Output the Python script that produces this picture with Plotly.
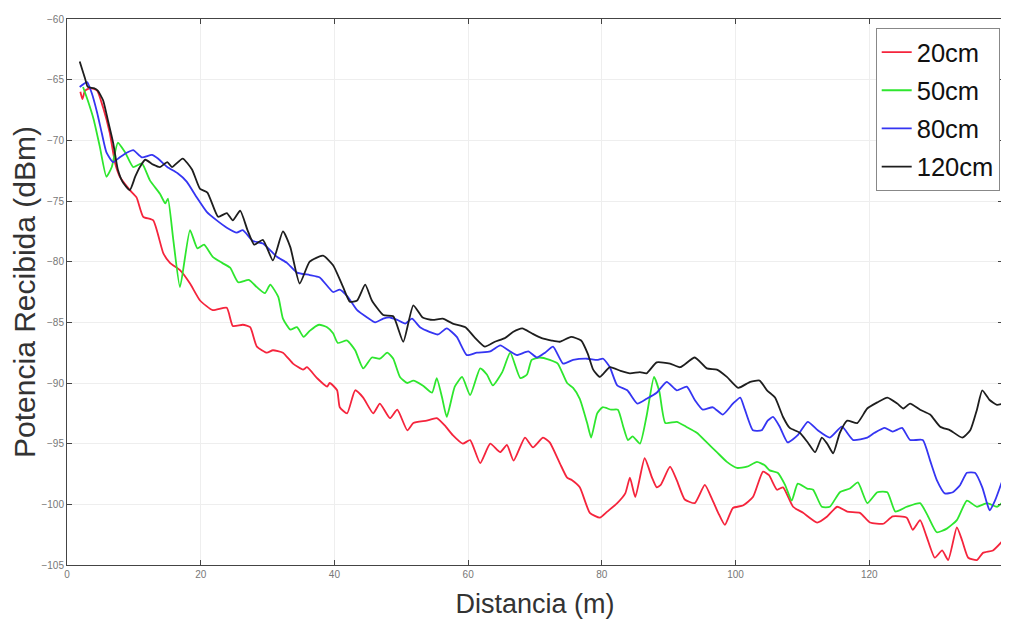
import plotly.graph_objects as go

# ---- Data ----
series_names = ["20cm", "50cm", "80cm", "120cm"]

red_x = [2.0, 2.3, 2.7, 3.5, 4.5, 5.4, 6.4, 7.2, 7.9, 9.4, 10.4, 11.4, 12.9, 14.4, 15.4, 16.9, 18.4, 19.9,
         21.8, 23.9, 24.8, 26.3, 27.4, 28.4, 29.9, 30.8, 32.3, 33.8, 35.3, 35.9, 37.4, 38.9, 39.3, 40.4,
         40.8, 41.9, 43.1, 44.3, 45.8, 46.8, 48.3, 49.4, 50.9, 51.8, 53.8, 55.3, 56.5, 57.7, 59.2, 60.3,
         61.8, 63.3, 64.8, 65.8, 66.8, 68.5, 69.7, 71.2, 72.2, 73.7, 74.8, 75.5, 76.7, 78.2, 79.7, 80.8,
         82.3, 83.5, 84.2, 85.0, 86.4, 87.5, 88.2, 88.8, 90.2, 91.2, 92.4, 93.9, 95.4, 96.5, 97.4, 98.4,
         99.6, 101.1, 102.6, 104.1, 105.0, 106.2, 107.1, 108.6, 110.1, 112.2, 113.7, 115.2, 116.7, 118.6,
         120.1, 122.1, 123.5, 125.6, 126.5, 127.6, 128.6, 129.8, 130.9, 131.8, 133.1, 133.9, 134.8, 136.1,
         137.0, 138.5, 139.8]
red_y = [-66.0, -66.6, -65.9, -65.7, -65.9, -67.3, -69.4, -71.9, -73.0, -74.1, -74.7, -76.3, -76.6, -79.3,
         -80.1, -80.7, -81.8, -83.2, -84.0, -83.8, -85.3, -85.2, -85.4, -87.0, -87.5, -87.3, -87.5, -88.4,
         -88.9, -88.7, -89.6, -90.3, -90.0, -90.6, -92.0, -92.5, -90.6, -91.2, -92.5, -91.7, -92.9, -92.2,
         -93.9, -93.3, -93.1, -92.9, -93.5, -94.3, -95.0, -94.7, -96.6, -95.0, -95.7, -95.1, -96.4, -94.5,
         -95.3, -94.5, -94.9, -96.6, -97.8, -98.0, -98.6, -100.7, -101.1, -100.6, -99.9, -99.1, -97.8,
         -99.4, -96.2, -97.8, -98.6, -98.4, -96.9, -98.0, -99.6, -99.9, -98.4, -99.6, -100.7, -101.7,
         -100.3, -100.1, -99.4, -97.3, -97.6, -98.8, -98.6, -100.2, -100.7, -101.5, -101.0, -100.2,
         -100.6, -100.7, -101.5, -101.6, -101.0, -101.1, -102.1, -101.3, -102.7, -104.4, -103.8, -104.6,
         -101.9, -103.0, -104.4, -104.6, -104.0, -103.8, -103.1]

green_x = [2.4, 3.1, 4.0, 4.9, 5.9, 6.7, 7.6, 8.7, 9.9, 11.2, 12.4, 13.9, 14.7, 15.1, 15.9, 16.9, 18.4,
           19.5, 20.5, 21.8, 23.2, 24.4, 25.6, 27.2, 28.4, 29.6, 30.4, 31.6, 32.3, 33.4, 34.4, 35.4, 36.3,
           37.7, 38.9, 39.8, 40.5, 41.9, 43.1, 44.3, 45.6, 46.8, 47.9, 48.8, 49.8, 50.9, 51.8, 53.2, 54.6,
           55.3, 56.1, 56.8, 58.0, 59.1, 60.3, 61.8, 62.8, 63.7, 65.1, 66.3, 67.8, 68.8, 69.5, 70.7, 72.2,
           73.4, 74.8, 75.7, 76.7, 77.8, 78.4, 79.3, 80.1, 81.4, 82.4, 83.2, 83.9, 84.6, 85.7, 86.7, 87.8,
           88.6, 89.5, 91.2, 92.6, 94.2, 95.7, 97.2, 98.7, 100.2, 101.7, 103.2, 104.4, 105.1, 106.3, 107.4,
           108.4, 109.3, 110.7, 111.6, 112.9, 114.1, 115.6, 117.1, 118.3, 119.7, 121.2, 122.7, 123.9, 125.6,
           127.6, 128.8, 130.1, 131.6, 133.1, 134.6, 136.1, 137.6, 139.1, 139.8]
green_y = [-65.6, -66.7, -68.3, -70.5, -73.0, -72.2, -70.2, -71.0, -72.2, -71.9, -73.3, -74.4, -75.2, -74.8,
           -78.2, -82.1, -77.4, -78.9, -78.6, -79.6, -80.1, -80.5, -81.7, -81.5, -82.1, -82.6, -81.9, -82.9,
           -84.7, -85.6, -85.4, -86.2, -85.7, -85.2, -85.4, -85.9, -86.7, -86.5, -87.3, -88.8, -87.9, -88.0,
           -87.5, -88.0, -89.5, -90.0, -89.8, -90.2, -90.8, -89.6, -91.2, -92.8, -90.3, -89.5, -91.0, -88.8,
           -89.3, -90.2, -89.1, -87.5, -89.6, -89.3, -88.1, -87.9, -88.1, -88.4, -90.0, -90.4, -91.3, -93.3,
           -94.5, -92.5, -92.0, -92.2, -92.2, -93.6, -94.7, -94.4, -95.0, -92.7, -89.5, -90.7, -93.3, -93.2,
           -93.6, -94.1, -94.9, -95.7, -96.5, -97.0, -96.9, -96.5, -96.8, -97.2, -97.4, -98.4, -99.7, -98.3,
           -98.7, -98.8, -100.2, -100.2, -99.0, -98.7, -98.2, -99.9, -99.0, -99.0, -100.6, -100.2, -99.9,
           -101.0, -102.3, -102.0, -101.3, -99.7, -100.2, -99.9, -100.2, -99.9]

blue_x = [1.9, 3.0, 3.7, 4.5, 5.2, 5.9, 6.9, 7.9, 9.0, 9.9, 11.2, 12.7, 13.6, 15.0, 16.5, 17.9, 19.4, 20.9,
          22.4, 23.9, 25.4, 26.3, 27.8, 29.3, 31.4, 32.9, 34.4, 36.3, 37.8, 39.8, 40.8, 42.0, 43.4, 44.9,
          46.1, 47.3, 48.3, 49.4, 50.6, 51.6, 52.8, 54.3, 55.5, 56.8, 58.3, 59.8, 61.3, 63.3, 64.8, 66.3,
          67.3, 69.0, 70.3, 71.5, 72.7, 74.2, 75.7, 77.8, 79.3, 80.2, 81.2, 82.3, 83.8, 85.3, 86.7, 88.2,
          89.7, 91.2, 92.7, 93.9, 95.1, 96.6, 98.1, 99.6, 100.7, 101.4, 102.6, 103.9, 104.8, 105.6, 106.6,
          107.8, 109.3, 110.8, 112.3, 114.1, 115.9, 117.6, 119.7, 120.8, 122.3, 123.5, 124.9, 126.1, 128.0,
          129.1, 130.1, 131.3, 132.5, 133.6, 134.6, 135.8, 136.9, 137.6, 138.0, 138.8, 139.8]
blue_y = [-65.6, -65.2, -66.1, -67.7, -69.4, -71.0, -71.8, -71.4, -71.0, -70.8, -71.4, -71.2, -71.5, -72.2,
          -72.7, -73.4, -74.7, -75.9, -76.6, -77.2, -77.6, -77.4, -78.3, -78.5, -79.6, -80.1, -80.9, -81.1,
          -81.3, -82.5, -82.3, -82.9, -84.0, -84.6, -85.0, -84.7, -84.6, -84.8, -85.1, -84.7, -85.4, -85.8,
          -86.0, -85.5, -86.2, -87.7, -87.5, -87.4, -86.9, -87.4, -87.7, -87.4, -87.9, -87.5, -87.0, -88.4,
          -88.1, -88.0, -88.1, -88.0, -88.7, -90.2, -90.6, -91.7, -91.3, -90.8, -89.9, -90.6, -90.3, -91.4,
          -92.2, -92.0, -92.6, -91.7, -91.2, -92.2, -93.9, -93.9, -93.1, -92.8, -93.6, -94.9, -94.3, -93.2,
          -93.9, -94.5, -93.6, -94.7, -94.5, -94.1, -93.7, -94.0, -93.7, -94.7, -94.7, -96.4, -98.0, -99.1,
          -99.0, -98.4, -97.4, -97.4, -98.6, -99.9, -100.5, -99.7, -98.2]

black_x = [1.9, 2.7, 3.1, 4.0, 4.6, 5.4, 6.1, 6.9, 7.6, 8.4, 9.4, 10.2, 10.9, 11.7, 12.9, 13.9, 15.0, 15.7,
           17.3, 18.7, 19.9, 21.0, 22.6, 23.9, 24.8, 25.9, 27.0, 28.0, 29.3, 30.8, 32.3, 33.4, 34.8, 36.3,
           38.3, 39.8, 41.3, 42.3, 43.4, 44.6, 45.6, 47.3, 48.8, 50.3, 51.8, 53.2, 54.7, 56.2, 57.7, 59.6,
           60.9, 62.5, 64.0, 65.5, 66.7, 68.1, 69.5, 71.0, 72.5, 73.7, 75.4, 76.9, 77.9, 78.7, 79.7, 81.2,
           82.8, 84.2, 85.7, 86.7, 88.2, 90.2, 91.7, 93.9, 95.7, 97.2, 98.7, 100.4, 102.2, 103.6, 104.7,
           105.9, 107.1, 108.1, 109.6, 110.8, 111.9, 112.9, 113.7, 114.6, 115.6, 116.7, 118.2, 119.7, 121.2,
           122.7, 124.2, 125.1, 126.1, 127.6, 129.1, 130.6, 132.1, 133.9, 135.1, 136.1, 136.9, 138.0, 139.1,
           140.0]
black_y = [-63.5, -64.9, -65.6, -65.7, -65.9, -66.7, -68.3, -70.2, -72.4, -73.5, -74.1, -73.0, -72.2, -71.6,
           -72.0, -72.2, -71.8, -72.2, -71.5, -72.4, -74.0, -74.3, -76.3, -76.0, -76.6, -75.8, -77.4, -78.6,
           -78.2, -79.9, -77.5, -78.8, -81.8, -80.0, -79.5, -80.3, -82.1, -83.3, -83.2, -81.9, -83.2, -84.4,
           -84.5, -86.6, -83.6, -84.6, -84.8, -84.7, -85.1, -85.4, -86.2, -87.0, -86.6, -86.3, -85.8, -85.5,
           -85.9, -86.3, -86.5, -86.6, -86.2, -86.5, -87.6, -88.9, -89.5, -88.7, -89.0, -89.2, -89.1, -89.2,
           -88.3, -88.4, -88.7, -87.9, -88.8, -88.9, -89.5, -90.4, -89.9, -89.8, -90.6, -91.2, -92.8, -93.7,
           -94.1, -94.9, -95.7, -94.5, -95.0, -95.8, -94.1, -93.1, -93.3, -92.1, -91.6, -91.2, -91.7, -92.1,
           -91.7, -92.2, -92.6, -93.6, -93.9, -94.5, -93.9, -92.2, -90.6, -91.4, -91.8, -91.7]

x_ticks = [0, 20, 40, 60, 80, 100, 120, 140]
y_ticks = [-105, -100, -95, -90, -85, -80, -75, -70, -65, -60]

# ---- Styles ----
colors = ["#f5243c", "#2ee62e", "#3535f2", "#1e1e1e"]
xs = [red_x, green_x, blue_x, black_x]
ys = [red_y, green_y, blue_y, black_y]

fig = go.Figure()
for name, x, y, c in zip(series_names, xs, ys, colors):
    fig.add_trace(go.Scatter(x=x, y=y, mode="lines", name=name, legendgroup=name,
                             line=dict(color=c, width=1.8, shape="spline", smoothing=0.5)))

axis_common = dict(showline=True, linecolor="#444444", linewidth=1, mirror="ticks",
                   ticks="inside", ticklen=5, tickcolor="#444444", automargin=False,
                   showgrid=True, gridcolor="#eeeeee", gridwidth=1, zeroline=False,
                   tickfont=dict(family="Liberation Sans Narrow, Arial, sans-serif", size=10, color="#777777"))

# The page body has an 8px margin, so the figure is sized to fit the 1009x621 window.
fig.update_layout(
    width=1001, height=613,
    margin=dict(l=59, r=6, t=11, b=56),
    paper_bgcolor="white", plot_bgcolor="white",
    font=dict(family="Liberation Sans, Arial, sans-serif", color="#222222"),
    xaxis=dict(range=[0, 140], tickvals=x_ticks,
               title=dict(text="Distancia (m)", font=dict(size=27, color="#333333"), standoff=15),
               **axis_common),
    yaxis=dict(range=[-105, -60], tickvals=y_ticks,
               title=dict(text="Potencia Recibida (dBm)", font=dict(size=30, color="#333333"), standoff=4),
               **axis_common),
    legend=dict(x=0.864, y=0.9835, xanchor="left", yanchor="top",
                bgcolor="white", bordercolor="#888888", borderwidth=1,
                font=dict(size=25.5, color="#111111"), tracegroupgap=2),
    showlegend=True,
)

fig.write_html("out.html")
